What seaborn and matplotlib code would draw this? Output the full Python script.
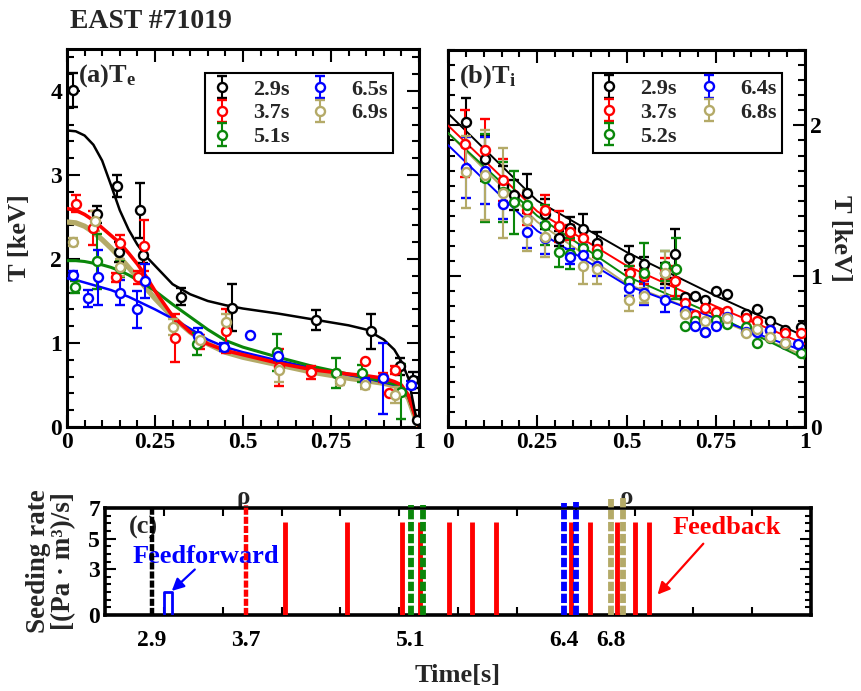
import numpy as np
import pandas as pd
import matplotlib
matplotlib.use("Agg")
import matplotlib.pyplot as plt
from matplotlib.ticker import MultipleLocator, FixedLocator, FixedFormatter
import seaborn as sns

nan = np.nan

# ---------------- (a) electron temperature profiles ----------------
te_labels = ["2.9s", "3.7s", "5.1s", "6.5s", "6.9s"]

te_rho_29 = [0.018, 0.084, 0.143, 0.149, 0.207, 0.217, 0.324, 0.468, 0.707, 0.864, 0.946, 0.982, 0.995]
te_val_29 = [4.01, 2.53, 2.87, 2.08, 2.58, 2.05, 1.55, 1.42, 1.27, 1.14, 0.72, 0.56, 0.08]
te_err_29 = [0.20, 0.10, 0.13, 0.12, 0.33, 0.10, 0.10, 0.28, 0.12, 0.21, 0.10, 0.10, nan]

te_rho_37 = [0.027, 0.073, 0.138, 0.151, 0.203, 0.219, 0.307, 0.378, 0.451, 0.603, 0.692, 0.847, 0.897, 0.916, 0.932]
te_val_37 = [2.66, 2.37, 1.78, 2.19, 1.78, 2.16, 1.06, 1.01, 1.14, 0.71, 0.65, 0.78, 0.59, 0.41, 0.68]
te_err_37 = [0.10, 0.20, 0.05, 0.10, 0.08, 0.30, 0.29, 0.08, 0.26, 0.22, 0.08, nan, 0.05, nan, 0.05]

te_rho_51 = [0.023, 0.086, 0.151, 0.368, 0.596, 0.764, 0.837, 0.948]
te_val_51 = [1.67, 1.97, 1.89, 0.99, 0.89, 0.64, 0.64, 0.42]
te_err_51 = [0.07, 0.33, 0.10, 0.13, 0.22, 0.18, 0.10, 0.33]

te_rho_65 = [0.018, 0.061, 0.089, 0.152, 0.198, 0.222, 0.372, 0.446, 0.520, 0.600, 0.847, 0.897, 0.976]
te_val_65 = [1.81, 1.53, 1.78, 1.60, 1.40, 1.74, 1.08, 0.95, 1.10, 0.85, 0.53, 0.58, 0.50]
te_err_65 = [0.05, 0.10, 0.33, 0.15, 0.22, 0.20, 0.10, 0.05, nan, 0.05, 0.05, 0.42, 0.05]

te_rho_69 = [0.016, 0.080, 0.151, 0.302, 0.378, 0.451, 0.603, 0.776, 0.847, 0.932]
te_val_69 = [2.20, 2.45, 1.90, 1.19, 1.03, 1.25, 0.68, 0.55, 0.50, 0.38]
te_err_69 = [0.05, 0.12, 0.10, 0.10, 0.05, 0.10, 0.15, 0.05, 0.05, 0.10]

# fitted Te profiles
fit_rho = [0, 0.025, 0.05, 0.075, 0.1, 0.125, 0.15, 0.175, 0.2, 0.225, 0.25, 0.3, 0.35, 0.4, 0.45, 0.5,
           0.6, 0.7, 0.8, 0.85, 0.9, 0.93, 0.95, 0.97, 0.99, 1.0]
fit_te_29 = [3.53, 3.52, 3.47, 3.36, 3.17, 2.88, 2.58, 2.35, 2.17, 2.03, 1.92, 1.70, 1.58, 1.50, 1.45, 1.41,
             1.35, 1.28, 1.21, 1.16, 1.04, 0.92, 0.78, 0.58, 0.15, 0.0]
fit_te_37 = [2.60, 2.58, 2.53, 2.46, 2.37, 2.28, 2.19, 2.07, 1.94, 1.79, 1.62, 1.32, 1.13, 0.99, 0.91, 0.86,
             0.76, 0.68, 0.63, 0.61, 0.58, 0.54, 0.50, 0.38, 0.12, 0.0]
fit_te_51 = [1.98, 1.98, 1.97, 1.95, 1.93, 1.90, 1.86, 1.81, 1.75, 1.69, 1.62, 1.46, 1.31, 1.16, 1.03, 0.95,
             0.83, 0.72, 0.63, 0.59, 0.54, 0.51, 0.48, 0.36, 0.12, 0.0]
fit_te_65 = [1.77, 1.75, 1.72, 1.69, 1.66, 1.63, 1.59, 1.55, 1.50, 1.45, 1.40, 1.29, 1.17, 1.04, 0.95, 0.89,
             0.79, 0.70, 0.62, 0.58, 0.53, 0.50, 0.47, 0.36, 0.12, 0.0]
fit_te_69 = [2.44, 2.43, 2.39, 2.32, 2.23, 2.13, 2.02, 1.90, 1.78, 1.65, 1.53, 1.31, 1.13, 0.99, 0.89, 0.83,
             0.74, 0.65, 0.58, 0.55, 0.52, 0.49, 0.46, 0.34, 0.10, 0.0]

# ---------------- (b) ion temperature profiles ----------------
ti_labels = ["2.9s", "3.7s", "5.2s", "6.4s", "6.8s"]

ti_rho_29 = [0.050, 0.104, 0.155, 0.185, 0.220, 0.272, 0.312, 0.342, 0.377, 0.416, 0.508, 0.549, 0.608, 0.636,
             0.664, 0.692, 0.720, 0.751, 0.782, 0.835, 0.866, 0.902, 0.944, 0.990]
ti_val_29 = [2.02, 1.78, 1.60, 1.54, 1.55, 1.41, 1.25, 1.32, 1.31, 1.22, 1.12, 1.08, 1.02, 1.15,
             0.86, 0.87, 0.84, 0.90, 0.88, 0.75, 0.78, 0.70, 0.64, 0.66]
ti_err_29 = [0.16, 0.15, 0.13, 0.10, 0.13, 0.10, 0.05, 0.07, 0.10, 0.07, 0.08, 0.05, 0.07, 0.16,
             nan, nan, nan, nan, nan, nan, nan, nan, nan, nan]

ti_rho_37 = [0.048, 0.104, 0.155, 0.220, 0.272, 0.312, 0.342, 0.377, 0.416, 0.510, 0.549, 0.608, 0.636,
             0.664, 0.692, 0.720, 0.751, 0.782, 0.835, 0.866, 0.902, 0.944, 0.990]
ti_val_37 = [1.88, 1.84, 1.64, 1.44, 1.44, 1.33, 1.29, 1.25, 1.18, 1.02, 1.00, 1.05, 0.97,
             0.82, 0.74, 0.79, 0.76, 0.77, 0.72, 0.70, 0.64, 0.62, 0.62]
ti_err_37 = [0.22, 0.20, 0.14, 0.10, 0.10, 0.10, 0.05, 0.05, 0.05, 0.05, 0.05, 0.07, 0.10,
             nan, nan, nan, nan, nan, nan, nan, nan, nan, nan]

ti_rho_52 = [0.104, 0.155, 0.185, 0.220, 0.272, 0.312, 0.342, 0.377, 0.416, 0.508, 0.549, 0.608, 0.640,
             0.664, 0.692, 0.720, 0.751, 0.782, 0.835, 0.866, 0.902, 0.944, 0.990]
ti_val_52 = [1.65, 1.56, 1.49, 1.47, 1.34, 1.16, 1.15, 1.19, 1.15, 0.97, 1.02, 1.07, 1.05,
             0.67, 0.70, 0.63, 0.71, 0.68, 0.66, 0.56, 0.59, 0.55, 0.49]
ti_err_52 = [0.29, 0.20, 0.21, 0.10, 0.13, 0.10, 0.10, 0.05, 0.07, 0.10, 0.20, 0.10, 0.20,
             nan, nan, nan, nan, nan, nan, nan, nan, nan, nan]

ti_rho_64 = [0.050, 0.104, 0.155, 0.220, 0.272, 0.342, 0.377, 0.416, 0.508, 0.549, 0.608,
             0.664, 0.692, 0.720, 0.751, 0.782, 0.835, 0.866, 0.902, 0.944, 0.980]
ti_val_64 = [1.72, 1.70, 1.48, 1.29, 1.25, 1.13, 1.14, 1.07, 0.92, 0.89, 0.84,
             0.77, 0.67, 0.63, 0.67, 0.73, 0.63, 0.63, 0.64, 0.56, 0.55]
ti_err_64 = [0.20, 0.22, 0.10, 0.10, 0.10, 0.05, 0.07, 0.07, 0.05, 0.08, 0.08,
             nan, nan, nan, nan, nan, nan, nan, nan, nan, nan]

ti_rho_68 = [0.050, 0.104, 0.155, 0.220, 0.272, 0.377, 0.416, 0.508, 0.549, 0.608,
             0.664, 0.720, 0.782, 0.835, 0.866, 0.902, 0.944]
ti_val_68 = [1.69, 1.67, 1.55, 1.37, 1.26, 1.07, 1.05, 0.84, 0.87, 1.02,
             0.75, 0.70, 0.72, 0.62, 0.65, 0.60, 0.56]
ti_err_68 = [0.24, 0.30, 0.30, 0.20, 0.13, 0.12, 0.10, 0.07, 0.05, 0.15,
             nan, nan, nan, nan, nan, nan, nan]

fit_rho_i = [0, 0.25, 0.5, 0.75, 1.0]
fit_ti_29 = [2.08, 1.50, 1.16, 0.87, 0.60]
fit_ti_37 = [2.00, 1.43, 1.07, 0.80, 0.55]
fit_ti_52 = [1.95, 1.40, 1.00, 0.74, 0.45]
fit_ti_64 = [1.87, 1.30, 0.94, 0.72, 0.50]
fit_ti_68 = [1.95, 1.36, 0.95, 0.72, 0.47]

# ---------------- (c) impurity seeding waveform ----------------
profile_times = [2.9, 3.7, 5.1, 5.2, 6.4, 6.5, 6.8, 6.9]
profile_tops = [7.0, 7.2, 7.2, 7.2, 7.3, 7.4, 7.6, 7.7]
profile_tick_labels = ["2.9", "3.7", "5.1", "6.4", "6.8"]
feedback_times = [4.03, 4.56, 5.02, 5.18, 5.42, 5.62, 5.82, 6.46, 6.62, 6.85, 7.00, 7.12]
feedback_height = 6.1
ff_time = [3.0, 3.0, 3.07, 3.07]
ff_rate = [0.0, 1.5, 1.5, 0.0]
base_time = [2.5, 8.5]
base_rate = [0.0, 0.0]

C_BLACK, C_RED, C_GREEN, C_BLUE, C_OLIVE = "#000000", "#ff0000", "#0a870a", "#0000ff", "#b4aa68"
series_colors = [C_BLACK, C_RED, C_GREEN, C_BLUE, C_OLIVE]
profile_colors = [C_BLACK, C_RED, C_GREEN, C_GREEN, C_BLUE, C_BLUE, C_OLIVE, C_OLIVE]

sns.set_theme(style="ticks")
plt.rcParams["font.family"] = ["Liberation Serif", "DejaVu Serif"]
plt.rcParams["font.weight"] = "bold"
plt.rcParams["mathtext.fontset"] = "custom"
plt.rcParams["mathtext.rm"] = "Liberation Serif:bold"
plt.rcParams["mathtext.it"] = "Liberation Serif:bold"
plt.rcParams["axes.linewidth"] = 2.2
plt.rcParams["axes.edgecolor"] = "black"

fig = plt.figure(figsize=(8.61, 6.91), dpi=100)
ax_a = fig.add_axes([0.0778, 0.3821, 0.4088, 0.5470])
ax_b = fig.add_axes([0.5203, 0.3821, 0.4147, 0.5455])
ax_c = fig.add_axes([0.1220, 0.1100, 0.8200, 0.1548])

TICK_FS = 17


def style_profile_axes(ax):
    ax.set_xlim(0, 1)
    ax.xaxis.set_major_locator(FixedLocator([0, 0.25, 0.5, 0.75, 1.0]))
    ax.xaxis.set_major_formatter(FixedFormatter(["0", "0.25", "0.5", "0.75", "1"]))
    ax.xaxis.set_minor_locator(MultipleLocator(0.05))
    ax.tick_params(which="both", direction="in", top=True, right=True, left=True, bottom=True,
                   width=1.5, colors="black", labelsize=TICK_FS)
    ax.tick_params(which="major", length=9)
    ax.tick_params(which="minor", length=5)
    ax.set_xlabel("ρ", fontsize=18, fontweight="bold", labelpad=24)
    for sp in ax.spines.values():
        sp.set_linewidth(2.2)


def draw_points(ax, rho, val, err, color, label):
    return ax.errorbar(rho, val, yerr=err, fmt="o", ms=6.5, mfc="white", mec=color, mew=1.7,
                       ecolor=color, elinewidth=1.5, capsize=3.8, capthick=1.5, label=label, zorder=4)


# panel (a)
te_fits = [(fit_te_69, C_OLIVE, 3.8), (fit_te_65, C_BLUE, 1.8), (fit_te_51, C_GREEN, 2.2),
           (fit_te_37, C_RED, 2.6), (fit_te_29, C_BLACK, 1.8)]
for yv, c, lw in te_fits:
    sns.lineplot(data=pd.DataFrame({"rho": fit_rho, "T": yv}), x="rho", y="T", ax=ax_a,
                 color=c, lw=lw, sort=False, estimator=None, zorder=3)

te_sets = [(te_rho_29, te_val_29, te_err_29), (te_rho_37, te_val_37, te_err_37),
           (te_rho_51, te_val_51, te_err_51), (te_rho_65, te_val_65, te_err_65),
           (te_rho_69, te_val_69, te_err_69)]
for (r, v, e), c, lab in zip(te_sets, series_colors, te_labels):
    draw_points(ax_a, r, v, e, c, lab)

style_profile_axes(ax_a)
ax_a.set_ylim(0, 4.5)
ax_a.yaxis.set_major_locator(MultipleLocator(1))
ax_a.yaxis.set_minor_locator(MultipleLocator(0.2))
ax_a.set_ylabel("T [keV]", fontsize=19, fontweight="bold", labelpad=14)
ax_a.text(0.03, 0.965, r"(a)T$_{\rm e}$", transform=ax_a.transAxes, fontsize=19,
          fontweight="bold", va="top", ha="left")

# panel (b)
ti_fits = [(fit_ti_68, C_OLIVE), (fit_ti_52, C_GREEN), (fit_ti_64, C_BLUE), (fit_ti_37, C_RED), (fit_ti_29, C_BLACK)]
for yv, c in ti_fits:
    sns.lineplot(data=pd.DataFrame({"rho": fit_rho_i, "T": yv}), x="rho", y="T", ax=ax_b,
                 color=c, lw=1.4, sort=False, estimator=None, zorder=3)

ti_sets = [(ti_rho_29, ti_val_29, ti_err_29), (ti_rho_37, ti_val_37, ti_err_37),
           (ti_rho_52, ti_val_52, ti_err_52), (ti_rho_64, ti_val_64, ti_err_64),
           (ti_rho_68, ti_val_68, ti_err_68)]
for (r, v, e), c, lab in zip(ti_sets, series_colors, ti_labels):
    draw_points(ax_b, r, v, e, c, lab)

style_profile_axes(ax_b)
ax_b.set_ylim(0, 2.5)
ax_b.yaxis.set_major_locator(MultipleLocator(1))
ax_b.yaxis.set_minor_locator(MultipleLocator(0.1))
ax_b.tick_params(axis="y", labelleft=False, labelright=True)
ax_b.yaxis.set_label_position("right")
ax_b.set_ylabel("T [keV]", fontsize=19, fontweight="bold", rotation=-90, va="bottom", labelpad=5)
ax_b.text(0.03, 0.965, r"(b)T$_{\rm i}$", transform=ax_b.transAxes, fontsize=19,
          fontweight="bold", va="top", ha="left")

for ax, box in [(ax_a, (0.392, 0.725, 0.534, 0.204)), (ax_b, (0.405, 0.728, 0.530, 0.203))]:
    leg = ax.legend(loc="lower left", bbox_to_anchor=box, mode="expand", ncol=2, fontsize=16,
                    frameon=True, fancybox=False, framealpha=1, edgecolor="black",
                    handlelength=1.0, handletextpad=0.9, borderpad=0.25, labelspacing=0.15,
                    borderaxespad=0, columnspacing=0.8)
    leg.get_frame().set_linewidth(1.5)
    for t in leg.get_texts():
        t.set_fontweight("bold")

# panel (c)
sns.lineplot(data=pd.DataFrame({"t": base_time, "r": base_rate}), x="t", y="r", ax=ax_c,
             color="#b0408c", lw=2.2, sort=False, estimator=None, zorder=2)
sns.lineplot(data=pd.DataFrame({"t": ff_time, "r": ff_rate}), x="t", y="r", ax=ax_c,
             color=C_BLUE, lw=2.0, sort=False, estimator=None, zorder=3)
ax_c.vlines(feedback_times, 0, feedback_height, colors=C_RED, lw=3.5, zorder=3)
for t, top, c in zip(profile_times, profile_tops, profile_colors):
    lw = 3.2 if c in (C_BLACK, C_RED) else 4.2
    ax_c.vlines(t, 0, top, colors=c, lw=lw, linestyles=(0, (1.6, 0.45)), zorder=5, clip_on=False)

ax_c.set_xlim(2.5, 8.5)
ax_c.set_ylim(0, 7)
ax_c.xaxis.set_major_locator(FixedLocator([2.9, 3.7, 5.1, 6.4, 6.8]))
ax_c.xaxis.set_major_formatter(FixedFormatter(profile_tick_labels))
ax_c.xaxis.set_minor_locator(MultipleLocator(0.5))
ax_c.yaxis.set_major_locator(FixedLocator([0, 3, 5, 7]))
ax_c.yaxis.set_minor_locator(MultipleLocator(0.5))
ax_c.tick_params(which="both", direction="in", top=True, right=True, width=1.5, colors="black",
                 labelsize=TICK_FS)
ax_c.tick_params(axis="x", which="major", length=0, pad=11)
ax_c.tick_params(axis="x", which="minor", length=6)
ax_c.tick_params(axis="y", which="major", length=8)
ax_c.tick_params(axis="y", which="minor", length=4)
for sp in ax_c.spines.values():
    sp.set_linewidth(2.6)
ax_c.set_xlabel("Time[s]", fontsize=19, fontweight="bold", labelpad=9)
ax_c.set_ylabel("Seeding rate\n[(Pa · m³)/s]", fontsize=19.5, fontweight="bold", labelpad=9,
                linespacing=1.0)

ax_c.text(2.70, 5.75, "(c)", fontsize=19, fontweight="bold", va="center", ha="left", zorder=4)
ax_c.text(2.73, 3.8, "Feedforward", fontsize=19, fontweight="bold", color=C_BLUE,
          va="center", ha="left", zorder=4)
ax_c.annotate("", xy=(3.05, 1.45), xytext=(3.28, 3.1),
              arrowprops=dict(arrowstyle="-|>", color=C_BLUE, lw=1.6, mutation_scale=18), zorder=4)
ax_c.text(7.32, 5.7, "Feedback", fontsize=19, fontweight="bold", color=C_RED,
          va="center", ha="left", zorder=4)
ax_c.annotate("", xy=(7.18, 1.2), xytext=(7.60, 4.8),
              arrowprops=dict(arrowstyle="-|>", color=C_RED, lw=1.6, mutation_scale=18), zorder=4)

fig.text(70 / 861, 1 - 22 / 691, "EAST #71019", fontsize=20, fontweight="bold", va="center", ha="left")

fig.savefig("out.png", dpi=100)
